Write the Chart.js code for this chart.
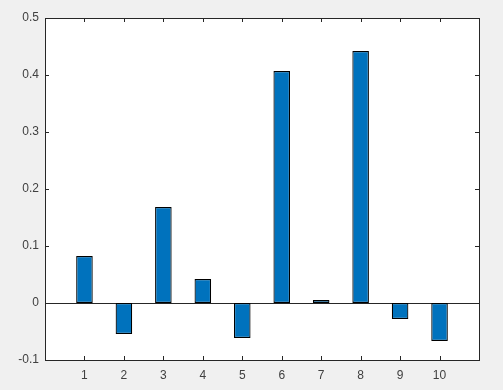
<!DOCTYPE html>
<html>
<head>
<meta charset="utf-8">
<script src="https://cdn.jsdelivr.net/npm/chart.js@4/dist/chart.umd.min.js"></script>
<style>
  body { margin: 0; background: #f0f0f0; }
  canvas { display: block; }
</style>
</head>
<body>
<canvas id="bars" width="503" height="390"></canvas>
<script>
// data
var xValues = [1, 2, 3, 4, 5, 6, 7, 8, 9, 10];
var barValues = [0.0825, -0.0545, 0.1685, 0.042, -0.0615, 0.407, 0.0053, 0.442, -0.028, -0.0667];
var yTicks = [-0.1, 0, 0.1, 0.2, 0.3, 0.4, 0.5];

var axisColor = '#262626';
var labelColor = '#404040';
var tickLen = 4;
var labelFont = { family: 'Liberation Sans, Arial, sans-serif', size: 12 };

// white plot area plus the matlab-style box with inward ticks
var boxPlugin = {
    id: 'box',
    beforeDraw: function (chart) {
        var a = chart.chartArea;
        var ctx = chart.ctx;
        ctx.save();
        ctx.fillStyle = '#ffffff';
        ctx.fillRect(a.left, a.top, a.right - a.left, a.bottom - a.top);
        ctx.restore();
    },
    afterDraw: function (chart) {
        var a = chart.chartArea;
        var ctx = chart.ctx;
        var xs = chart.scales.x;
        var ys = chart.scales.y;
        ctx.save();
        ctx.strokeStyle = axisColor;
        ctx.lineWidth = 1;
        ctx.beginPath();
        xValues.forEach(function (v) {
            var px = Math.round(xs.getPixelForValue(v)) + 0.5;
            ctx.moveTo(px, a.bottom);
            ctx.lineTo(px, a.bottom - tickLen);
            ctx.moveTo(px, a.top);
            ctx.lineTo(px, a.top + tickLen);
        });
        yTicks.forEach(function (v) {
            var py = Math.round(ys.getPixelForValue(v)) + 0.5;
            ctx.moveTo(a.left, py);
            ctx.lineTo(a.left + tickLen, py);
            ctx.moveTo(a.right, py);
            ctx.lineTo(a.right - tickLen, py);
        });
        ctx.stroke();
        ctx.strokeRect(Math.round(a.left) + 0.5, Math.round(a.top) + 0.5,
            Math.round(a.right - a.left), Math.round(a.bottom - a.top));
        ctx.restore();
    }
};

var ctx = document.getElementById('bars').getContext('2d');
var chart = new Chart(ctx, {
    type: 'bar',
    data: {
        datasets: [{
            data: xValues.map(function (x, i) { return { x: x, y: barValues[i] }; }),
            backgroundColor: '#0072bd',
            borderColor: '#000000',
            borderWidth: 1.2,
            borderSkipped: false,
            inflateAmount: 0,
            categoryPercentage: 1,
            barPercentage: 0.42
        }]
    },
    options: {
        responsive: false,
        animation: false,
        layout: { padding: { top: 18, right: 24, left: 0, bottom: 0 } },
        plugins: {
            legend: { display: false },
            tooltip: { enabled: false }
        },
        scales: {
            x: {
                type: 'linear',
                min: 0,
                max: 11,
                offset: false,
                border: { display: false },
                grid: { display: false, offset: false },
                ticks: {
                    stepSize: 1,
                    autoSkip: false,
                    maxRotation: 0,
                    padding: 0,
                    color: labelColor,
                    font: labelFont,
                    callback: function (v) { return (v >= 1 && v <= 10) ? String(v) : ''; }
                },
                afterFit: function (s) {
                    s.height = 30;
                    s.paddingLeft = 0;
                    s.paddingRight = 0;
                }
            },
            y: {
                min: -0.1,
                max: 0.5,
                border: { display: false },
                grid: {
                    drawTicks: false,
                    color: function (c) {
                        return Math.abs(c.tick.value) < 1e-9 ? axisColor : 'rgba(0,0,0,0)';
                    }
                },
                ticks: {
                    stepSize: 0.1,
                    padding: 6,
                    color: labelColor,
                    font: labelFont,
                    callback: function (v) {
                        var r = Math.round(v * 10) / 10;
                        return r === 0 ? '0' : String(r);
                    }
                },
                afterFit: function (s) { s.width = 45; }
            }
        }
    },
    plugins: [boxPlugin]
});
</script>
</body>
</html>
